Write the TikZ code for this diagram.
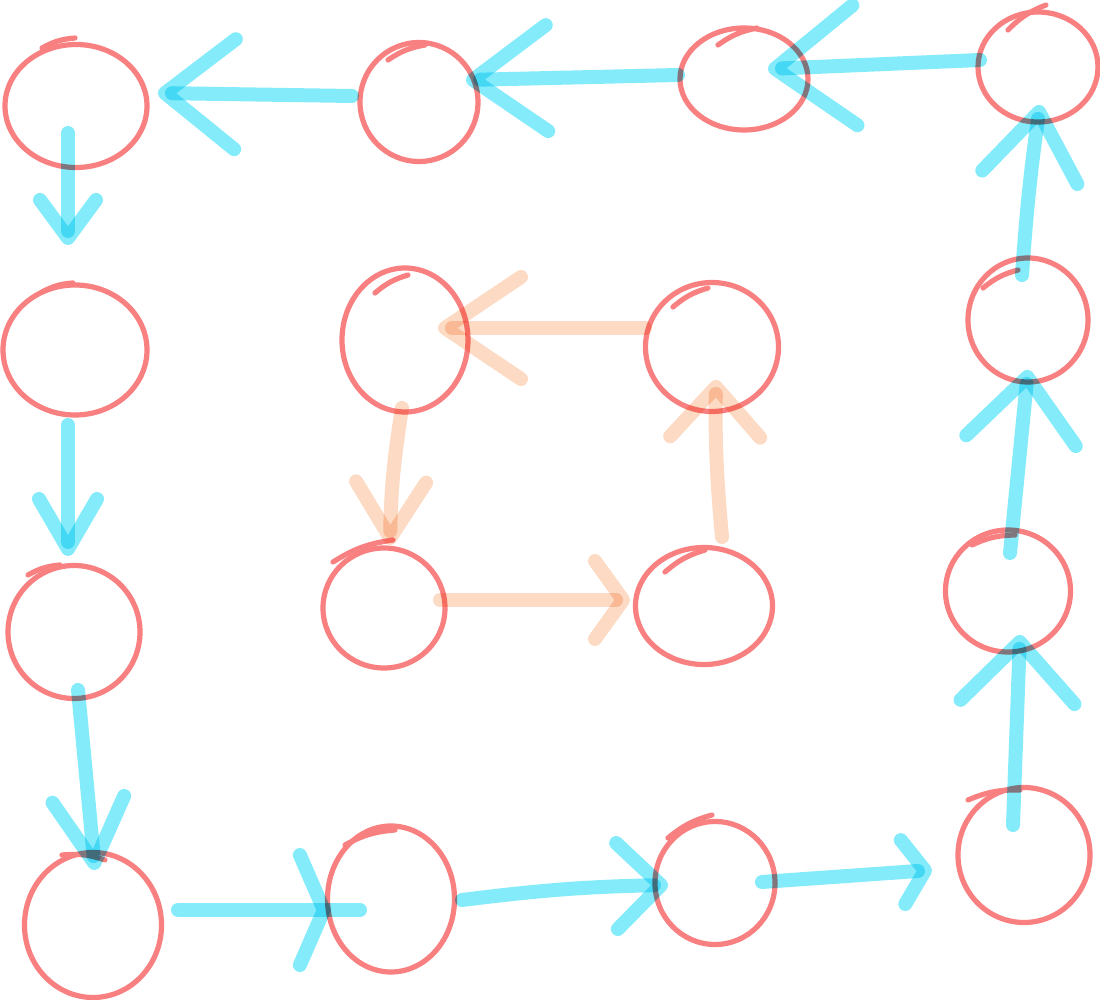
\documentclass[tikz,border=0pt]{standalone}
\usetikzlibrary{arrows.meta,calc,shapes.geometric,decorations.markings}
\definecolor{sred}{RGB}{248,128,128}
\definecolor{sblue}{RGB}{11,217,247}
\definecolor{sorange}{RGB}{250,173,122}
\tikzset{
  bub/.style={ellipse, draw=sred, line width=2.6pt, inner sep=0pt, outer sep=0pt},
  tickmark/.style={draw=sred, line width=2.6pt, line cap=round},
  barrow/.style={draw=sblue, line width=7pt, line cap=round, line join=round, draw opacity=0.5},
  oarrow/.style={draw=sorange, line width=7pt, line cap=round, line join=round, draw opacity=0.45},
  barb/.style 2 args={-{Straight Barb[length=#1pt,width=#2pt,round]}}
}
\newcommand\sktick[5]{\draw[tickmark] ($(#1)+(#2,#3)$) to[bend left=12] ($(#1)+(#4,#5)$);}
\begin{document}
\begin{tikzpicture}[x=0.5pt,y=-0.5pt]
\fill[white] (0,0) rectangle (1100,1000);
\useasboundingbox (0,0) rectangle (1100,1000);
% nodes
\node[bub, minimum width=71pt, minimum height=61.5pt] (n1) at (76,106) {};
\node[bub, minimum width=59pt, minimum height=59.5pt] (n2) at (419,102) {};
\node[bub, minimum width=64pt, minimum height=51pt] (n3) at (744,79) {};
\node[bub, minimum width=60pt, minimum height=55pt] (n4) at (1038,67) {};
\node[bub, minimum width=72pt, minimum height=65pt] (n5) at (75,350) {};
\node[bub, minimum width=66pt, minimum height=66.5pt] (n6) at (74,632) {};
\node[bub, minimum width=68.5pt, minimum height=72.5pt] (n7) at (93,925) {};
\node[bub, minimum width=63.5pt, minimum height=73pt] (n8) at (391,899) {};
\node[bub, minimum width=60pt, minimum height=61.5pt] (n9) at (715,883) {};
\node[bub, minimum width=66pt, minimum height=67.5pt] (n10) at (1024,855) {};
\node[bub, minimum width=60pt, minimum height=62pt] (n11) at (1028,320) {};
\node[bub, minimum width=62.5pt, minimum height=61pt] (n12) at (1008,591) {};
\node[bub, minimum width=63pt, minimum height=72pt] (n13) at (405,340) {};
\node[bub, minimum width=66.5pt, minimum height=64.5pt] (n14) at (712,347) {};
\node[bub, minimum width=61pt, minimum height=60pt] (n15) at (384,608) {};
\node[bub, minimum width=68.5pt, minimum height=58.5pt] (n16) at (704,606) {};
% hand-drawn overshoot ticks
\sktick{n1}{-34}{-58}{-1}{-68}
\sktick{n2}{-31}{-42}{6}{-57}
\sktick{n3}{-26}{-34}{13}{-51}
\sktick{n4}{-30}{-37}{8}{-62}
\sktick{n5}{-33}{-58}{-2}{-67}
\sktick{n6}{-46}{-57}{-14}{-67}
\sktick{n7}{-31}{-70}{12}{-65}
\sktick{n8}{-46}{-54}{4}{-69}
\sktick{n9}{-47}{-45}{-3}{-68}
\sktick{n10}{-56}{-55}{-4}{-65}
\sktick{n11}{-45}{-32}{-10}{-50}
\sktick{n12}{-36}{-46}{7}{-56}
\sktick{n13}{-30}{-47}{3}{-65}
\sktick{n14}{-39}{-40}{-4}{-59}
\sktick{n15}{-51}{-46}{9}{-68}
\sktick{n16}{-39}{-34}{1}{-56}
\begin{scope}[blend mode=multiply]
% outer blue ring
\draw[barrow, barb={35}{55}] ($(n2)+(-67,-6)$) -- ($(n1)+(82,-13)$);
\draw[barrow, barb={37}{53}] ($(n3)+(-66,-4)$) -- ($(n2)+(47,-22)$);
\draw[barrow, barb={40}{60}] ($(n4)+(-58,-7)$) -- ($(n3)+(24,-10)$);
\draw[barrow, barb={33}{48}] ($(n11)+(-6,-45)$) to[bend left=2] ($(n4)+(2,38)$);
\draw[barrow, barb={32}{55}] ($(n12)+(2,-38)$) -- ($(n11)+(0,50)$);
\draw[barrow, barb={30}{57}] ($(n10)+(-11,-30)$) -- ($(n12)+(12,44)$);
\draw[barrow, barb={11}{32}] ($(n9)+(47,-1)$) -- ($(n10)+(-92,15)$);
\draw[barrow, barb={22}{43}] ($(n8)+(71,1)$) to[bend left=3] ($(n9)+(-47,2)$);
\draw[barrow, postaction={decorate, decoration={markings,
   mark=at position 0.84 with {\arrow[draw opacity=0.5]{Straight Barb[length=12pt,width=55pt,round]}}}}]
   ($(n7)+(85,-15)$) -- ($(n8)+(-31,11)$);
\draw[barrow, barb={32}{36}] ($(n6)+(4,58)$) -- ($(n7)+(2,-55)$);
\draw[barrow, barb={25}{29}] ($(n5)+(-7,75)$) -- ($(n6)+(-6,-76)$);
\draw[barrow, barb={19}{28}] ($(n1)+(-8,27)$) -- ($(n5)+(-7,-105)$);
% inner orange ring
\draw[oarrow, barb={38}{51}] ($(n14)+(-67,-19)$) -- ($(n13)+(33,-12)$);
\draw[oarrow, barb={28}{35}] ($(n13)+(-3,68)$) to[bend right=4] ($(n15)+(6,-63)$);
\draw[oarrow, barb={14}{39}] ($(n15)+(56,-8)$) -- ($(n16)+(-74,-6)$);
\draw[oarrow, barb={25}{45}] ($(n16)+(18,-69)$) to[bend left=3] ($(n14)+(4,33)$);
\end{scope}
\end{tikzpicture}
\end{document}
